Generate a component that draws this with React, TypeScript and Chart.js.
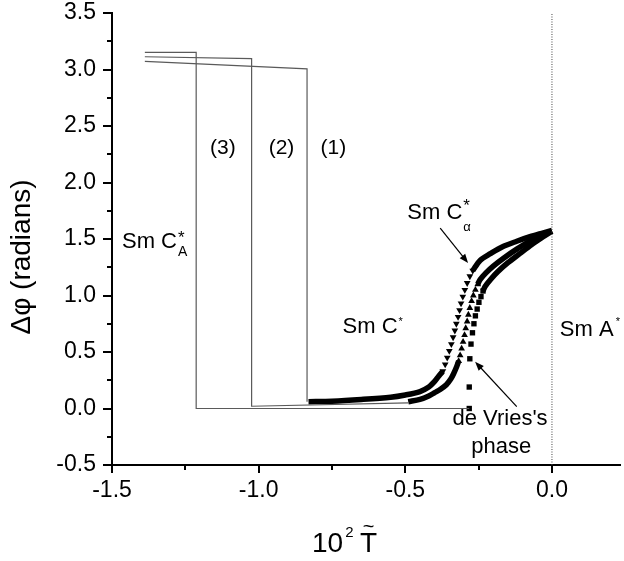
import React, { useEffect, useRef } from "react";
import { Chart, registerables } from "chart.js";
Chart.register(...registerables);

// ---- axes ----
const xTickValues = [-1.5, -1.0, -0.5, 0.0];
const xMinorTicks = [-1.25, -0.75, -0.25];
const yTickValues = [-0.5, 0.0, 0.5, 1.0, 1.5, 2.0, 2.5, 3.0, 3.5];
const yMinorTicks = [-0.25, 0.25, 0.75, 1.25, 1.75, 2.25, 2.75, 3.25];

// ---- step curves (1), (2), (3) ----
const step3X = [-1.388, -1.213, -1.213, -0.282];
const step3Y = [3.152, 3.152, 0.0, 0.0];
const step2X = [-1.388, -1.024, -1.024, -0.49];
const step2Y = [3.113, 3.096, 0.02, 0.05];
const step1X = [-1.388, -0.835, -0.835];
const step1Y = [3.072, 3.005, 0.06];

// ---- Sm C* curve, down triangles ----
const downBandLowX = [-0.83, -0.75, -0.65, -0.55, -0.5, -0.45, -0.42, -0.4, -0.385, -0.372];
const downBandLowY = [0.06, 0.065, 0.08, 0.1, 0.12, 0.15, 0.19, 0.24, 0.29, 0.33];
const downMarkX = [-0.372, -0.364, -0.357, -0.35, -0.343, -0.337, -0.331, -0.326, -0.32, -0.315, -0.31, -0.304, -0.297, -0.289, -0.28, -0.27];
const downMarkY = [0.33, 0.39, 0.45, 0.51, 0.57, 0.63, 0.69, 0.75, 0.81, 0.87, 0.93, 0.99, 1.05, 1.11, 1.17, 1.22];
const downBandHighX = [-0.27, -0.245, -0.21, -0.17, -0.12, -0.075, -0.035, 0.0];
const downBandHighY = [1.22, 1.31, 1.37, 1.43, 1.48, 1.52, 1.55, 1.575];

// ---- up triangles ----
const upBandLowX = [-0.49, -0.45, -0.42, -0.4, -0.38, -0.36, -0.345, -0.335, -0.325, -0.318];
const upBandLowY = [0.06, 0.08, 0.11, 0.14, 0.17, 0.21, 0.26, 0.31, 0.37, 0.42];
const upMarkX = [-0.318, -0.313, -0.308, -0.303, -0.298, -0.294, -0.289, -0.285, -0.28, -0.274, -0.268, -0.261, -0.253];
const upMarkY = [0.42, 0.47, 0.53, 0.59, 0.65, 0.71, 0.77, 0.83, 0.89, 0.95, 1.0, 1.05, 1.1];
const upBandHighX = [-0.253, -0.245, -0.225, -0.2, -0.165, -0.12, -0.07, -0.03, 0.0];
const upBandHighY = [1.1, 1.14, 1.2, 1.26, 1.33, 1.41, 1.49, 1.54, 1.57];

// ---- squares (de Vries's phase) ----
const sqMarkX = [-0.282, -0.282, -0.28, -0.276, -0.271, -0.266, -0.261, -0.255, -0.249, -0.242, -0.235];
const sqMarkY = [0.0, 0.19, 0.44, 0.57, 0.67, 0.75, 0.82, 0.88, 0.94, 0.99, 1.04];
const sqBandX = [-0.235, -0.228, -0.21, -0.185, -0.15, -0.11, -0.07, -0.03, 0.0];
const sqBandY = [1.04, 1.08, 1.14, 1.21, 1.29, 1.37, 1.45, 1.52, 1.57];

// ---- Sm A* boundary ----
const boundaryX = [0.0, 0.0];
const boundaryY = [-0.5, 3.5];

const FONT = "'Liberation Sans', Arial, Helvetica, sans-serif";

const pts = (xs: number[], ys: number[]) => xs.map((x, i) => ({ x, y: ys[i] }));

const stepDs = (xs: number[], ys: number[]) => ({
  data: pts(xs, ys),
  showLine: true,
  borderColor: "#5a5a5a",
  borderWidth: 1.2,
  pointRadius: 0,
  fill: false,
});
const bandDs = (xs: number[], ys: number[]) => ({
  data: pts(xs, ys),
  showLine: true,
  borderColor: "#000",
  borderWidth: 5.5,
  pointRadius: 0,
  tension: 0.3,
  fill: false,
});
const markDs = (xs: number[], ys: number[], style: string, rot: number, r: number) => ({
  data: pts(xs, ys),
  showLine: false,
  pointStyle: style,
  pointRotation: rot,
  pointRadius: r,
  pointBackgroundColor: "#000",
  pointBorderColor: "#000",
  pointBorderWidth: 0,
});

const overlay = {
  id: "overlay",
  afterDraw(chart: any) {
    const { ctx, chartArea } = chart;
    const xs = chart.scales.x;
    const ys = chart.scales.y;
    const X = (v: number) => xs.getPixelForValue(v);
    const Y = (v: number) => ys.getPixelForValue(v);
    ctx.save();
    // minor ticks
    ctx.strokeStyle = "#000";
    ctx.lineWidth = 2;
    ctx.beginPath();
    for (const v of xMinorTicks) {
      const px = Math.round(X(v));
      ctx.moveTo(px, chartArea.bottom);
      ctx.lineTo(px, chartArea.bottom + 5);
    }
    for (const v of yMinorTicks) {
      const py = Math.round(Y(v));
      ctx.moveTo(chartArea.left - 5, py);
      ctx.lineTo(chartArea.left, py);
    }
    ctx.stroke();

    const text = (s: string, x: number, y: number, size: number, align = "left", base = "middle") => {
      ctx.font = `${size}px ${FONT}`;
      ctx.fillStyle = "#000";
      ctx.textAlign = align;
      ctx.textBaseline = base;
      ctx.fillText(s, x, y);
      return ctx.measureText(s).width;
    };

    // curve labels
    text("(3)", X(-1.122), Y(2.305), 21, "center");
    text("(2)", X(-0.922), Y(2.305), 21, "center");
    text("(1)", X(-0.745), Y(2.305), 21, "center");

    // Sm C*_A
    {
      const lx = X(-1.466), ly = Y(1.473);
      const w = text("Sm C", lx, ly, 22);
      text("*", lx + w + 1, ly + 1, 17, "left", "alphabetic");
      text("A", lx + w + 1, ly + 10, 14);
    }
    // Sm C*
    {
      const lx = X(-0.714), ly = Y(0.721);
      const w = text("Sm C", lx, ly, 22);
      text("*", lx + w + 1, ly - 2, 11, "left", "alphabetic");
    }
    // Sm C*_alpha
    {
      const lx = X(-0.493), ly = Y(1.73);
      const w = text("Sm C", lx, ly, 22);
      text("*", lx + w + 1, ly - 2, 17, "left", "alphabetic");
      text("α", lx + w + 1, ly + 14, 13);
    }
    // Sm A*
    {
      const lx = X(0.027), ly = Y(0.695);
      const w = text("Sm A", lx, ly, 22);
      text("*", lx + w + 2, ly - 5, 11, "left", "alphabetic");
    }
    text("de Vries's", X(-0.177), Y(-0.093), 22, "center");
    text("phase", X(-0.173), Y(-0.341), 22, "center");

    // arrows
    const arrow = (x1: number, y1: number, x2: number, y2: number) => {
      const ax = X(x1), ay = Y(y1), bx = X(x2), by = Y(y2);
      const ang = Math.atan2(by - ay, bx - ax);
      const L = 9, W = 3.5;
      ctx.strokeStyle = "#000";
      ctx.lineWidth = 1.2;
      ctx.beginPath();
      ctx.moveTo(ax, ay);
      ctx.lineTo(bx - Math.cos(ang) * L * 0.8, by - Math.sin(ang) * L * 0.8);
      ctx.stroke();
      ctx.beginPath();
      ctx.moveTo(bx, by);
      ctx.lineTo(bx - Math.cos(ang) * L - Math.sin(ang) * W, by - Math.sin(ang) * L + Math.cos(ang) * W);
      ctx.lineTo(bx - Math.cos(ang) * L + Math.sin(ang) * W, by - Math.sin(ang) * L - Math.cos(ang) * W);
      ctx.closePath();
      ctx.fillStyle = "#000";
      ctx.fill();
    };
    arrow(-0.381, 1.597, -0.286, 1.287);
    arrow(-0.12, 0.016, -0.262, 0.414);

    // axis titles
    ctx.save();
    ctx.translate(22, 257);
    ctx.rotate(-Math.PI / 2);
    text("Δφ (radians)", 0, 0, 28, "center");
    ctx.restore();

    const w10 = text("10", 312, 552, 28, "left", "alphabetic");
    text("2", 312 + w10 + 2, 537, 15, "left", "alphabetic");
    const tw = text("T", 360, 552, 28, "left", "alphabetic");
    text("~", 360 + tw / 2, 533, 20, "center", "alphabetic");

    ctx.restore();
  },
};

export default function App() {
  const ref = useRef<HTMLCanvasElement | null>(null);
  useEffect(() => {
    if (!ref.current) return;
    const chart = new Chart(ref.current, {
      type: "scatter",
      data: {
        datasets: [
          {
            data: pts(boundaryX, boundaryY),
            showLine: true,
            borderColor: "#444",
            borderWidth: 1,
            borderDash: [1, 1.5],
            pointRadius: 0,
          },
          stepDs(step3X, step3Y),
          stepDs(step2X, step2Y),
          stepDs(step1X, step1Y),
          bandDs(downBandLowX, downBandLowY),
          bandDs(downBandHighX, downBandHighY),
          markDs(downMarkX, downMarkY, "triangle", 180, 3.9),
          bandDs(upBandLowX, upBandLowY),
          bandDs(upBandHighX, upBandHighY),
          markDs(upMarkX, upMarkY, "triangle", 0, 3.9),
          bandDs(sqBandX, sqBandY),
          markDs(sqMarkX, sqMarkY, "rect", 0, 3.8),
        ] as any,
      },
      options: {
        animation: false,
        responsive: true,
        maintainAspectRatio: false,
        devicePixelRatio: 1,
        layout: { padding: { top: 13, right: 0, left: 0, bottom: 0 } },
        plugins: { legend: { display: false }, tooltip: { enabled: false } },
        scales: {
          x: {
            type: "linear",
            position: "bottom",
            min: -1.5,
            max: 0.232,
            afterBuildTicks: (s: any) => {
              s.ticks = xTickValues.map((v) => ({ value: v }));
            },
            afterFit: (s: any) => {
              s.height = 96;
              s.paddingLeft = 0;
              s.paddingRight = 0;
            },
            grid: { drawOnChartArea: false, drawTicks: true, tickLength: 8, color: "#000", lineWidth: 2 },
            border: { display: true, color: "#000", width: 2 },
            ticks: {
              color: "#000",
              font: { family: FONT, size: 23 },
              padding: 4,
              maxRotation: 0,
              callback: (v: any) => Number(v).toFixed(1),
            },
          },
          y: {
            type: "linear",
            min: -0.5,
            max: 3.5,
            afterBuildTicks: (s: any) => {
              s.ticks = yTickValues.map((v) => ({ value: v }));
            },
            afterFit: (s: any) => {
              s.width = 112;
              s.paddingTop = 0;
              s.paddingBottom = 0;
            },
            grid: { drawOnChartArea: false, drawTicks: true, tickLength: 9, color: "#000", lineWidth: 2 },
            border: { display: true, color: "#000", width: 2 },
            ticks: {
              color: "#000",
              font: { family: FONT, size: 23 },
              padding: 7,
              callback: (v: any) => Number(v).toFixed(1),
            },
          },
        },
      } as any,
      plugins: [overlay],
    });
    return () => chart.destroy();
  }, []);
  return (
    <div style={{ position: "fixed", left: 0, top: 0, width: 624, height: 561, background: "#fff" }}>
      <canvas ref={ref} />
    </div>
  );
}
